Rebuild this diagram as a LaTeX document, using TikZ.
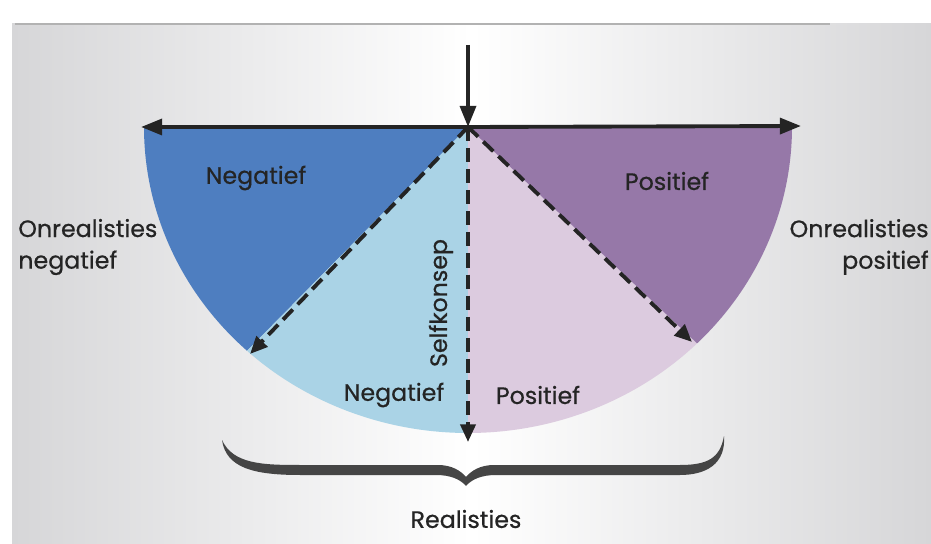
\documentclass[tikz,border=0pt]{standalone}
\usepackage{fontspec}
\setmainfont{Poppins}
\newfontfamily\lblfont[FakeBold=0.6]{Poppins}
\usetikzlibrary{arrows.meta,calc}
\definecolor{bgedge}{HTML}{D6D6D8}
\definecolor{darkblue}{HTML}{4E7EC0}
\definecolor{lightblue}{HTML}{AAD3E6}
\definecolor{lightpink}{HTML}{DCCBDF}
\definecolor{purple}{HTML}{9678A8}
\definecolor{ink}{HTML}{242424}
\tikzset{
  lbl/.style={font=\lblfont\fontsize{13.5}{18}\selectfont, text=ink, inner sep=0pt},
  solidarrow/.style={draw=ink, line width=2.2pt, -{Triangle[length=12pt,width=9pt]}},
  dasharrow/.style={draw=ink, line width=2.2pt, dash pattern=on 8pt off 4pt, -{Triangle[length=10pt,width=8.5pt]}},
}
\begin{document}
\begin{tikzpicture}[x=0.02cm,y=-0.02cm]
\useasboundingbox (0,0) rectangle (931,544);
\fill[white] (0,0) rectangle (931,544);
\shade[left color=bgedge, right color=bgedge, middle color=white] (12,24) rectangle (931,544);
\draw[gray!60, line width=1pt] (15,24) -- (830,24);

\coordinate (C) at (468,127);
% sectors
\fill[darkblue] (C) -- (144,127) arc[start angle=180, end angle=133, x radius=324, y radius=306] -- cycle;
\fill[lightblue] (C) -- ($(C)+(133:324 and 306)$) arc[start angle=133, end angle=90, x radius=324, y radius=306] -- cycle;
\fill[lightpink] (C) -- (468,433) arc[start angle=90, end angle=45, x radius=324, y radius=306] -- cycle;
\fill[purple] (C) -- ($(C)+(45:324 and 306)$) arc[start angle=45, end angle=0, x radius=324, y radius=306] -- cycle;

\coordinate (T) at (468,45);
\coordinate (L) at (141,127);
\coordinate (R) at (801,126);
\coordinate (DL) at (250,354);
\coordinate (DR) at (692,342);
\coordinate (B) at (468,442);

\draw[solidarrow] (C) -- (L);
\draw[solidarrow] (C) -- (R);
\draw[solidarrow] (T) -- (C);
\draw[dasharrow] (C) -- (DL);
\draw[dasharrow] (C) -- (DR);
\draw[dasharrow] (C) -- (B);

% brace
\fill[ink!85] (222,440) .. controls (233,464) and (262,465) .. (300,465) -- (438,465)
  .. controls (452,465) and (461,471) .. (466,477) .. controls (471,471) and (480,465) .. (494,465)
  -- (680,465) .. controls (708,465) and (720,458) .. (724,436)
  .. controls (726,464) and (706,475) .. (680,475) -- (496,475)
  .. controls (482,475) and (472,479) .. (466,486) .. controls (460,479) and (450,475) .. (436,475)
  -- (300,475) .. controls (254,475) and (226,468) .. (222,440) -- cycle;

\node[lbl] (n1) at (256,178) {Negatief};
\node[lbl] (p1) at (667,181) {Positief};
\node[lbl, anchor=west, align=left] (ol) at (18,247) {Onrealisties\\negatief};
\node[lbl, anchor=east, align=right] (or) at (929,247) {Onrealisties\\positief};
\node[lbl, rotate=90] (sk) at (441,303) {Selfkonsep};
\node[lbl] (n2) at (394,395) {Negatief};
\node[lbl] (p2) at (538,395) {Positief};
\node[lbl] (re) at (466,519) {Realisties};
\end{tikzpicture}
\end{document}
